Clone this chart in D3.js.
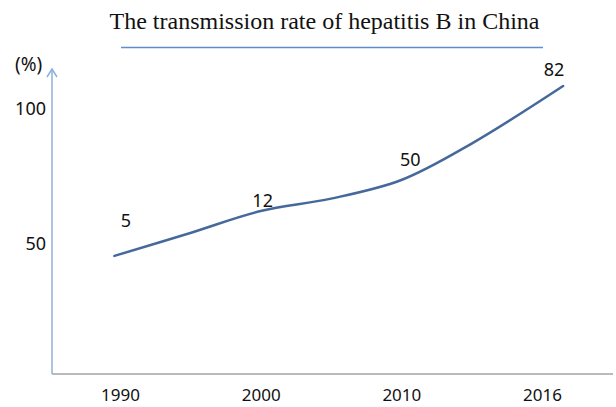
<!DOCTYPE html>
<html>
<head>
<meta charset="utf-8">
<script src="https://cdn.jsdelivr.net/npm/d3@7"></script>
<style>
  html, body { margin: 0; padding: 0; background: #fff; }
  svg { display: block; }
</style>
</head>
<body>
<div id="chart"></div>
<script>
// data
const title = "The transmission rate of hepatitis B in China";
const years = ["1990", "2000", "2010", "2016"];
const rateLabels = ["5", "12", "50", "82"];
const yTicks = [50, 100];
const unitLabel = "(%)";
// curve, sampled along the category axis (0 = 1990 ... 3 = 2016)
const curvePos = [-0.04, 0.5, 1.0, 1.5, 2.0, 2.5, 3.15];
const curveVal = [45.6, 54.1, 62.2, 66.8, 73.7, 87.2, 108.5];

// layout
const w = 616, h = 407;
const axisX = 52, axisY = 374;
const labelShift = [[6, -27], [2, -4], [9, -14], [12, -23]];

const svg = d3.select("#chart").append("svg")
  .attr("width", w)
  .attr("height", h)
  .attr("viewBox", [0, 0, w, h]);

const x = d3.scaleLinear().domain([0, 3]).range([120, 542]);
const y = d3.scaleLinear().domain([0, 100]).range([379, 109]);

// title + rule underneath
svg.append("text")
  .attr("x", 324.5)
  .attr("y", 29)
  .attr("text-anchor", "middle")
  .attr("font-family", "'Liberation Serif', 'Times New Roman', serif")
  .attr("font-size", 24)
  .attr("fill", "#111")
  .text(title);

svg.append("line")
  .attr("x1", 121).attr("x2", 543)
  .attr("y1", 47.5).attr("y2", 47.5)
  .attr("stroke", "#5f8ccb")
  .attr("stroke-width", 1.5);

// x axis
const ax = d3.axisBottom(x)
  .tickValues(d3.range(years.length))
  .tickFormat(i => years[i])
  .tickSize(0)
  .tickPadding(15);

svg.append("g")
  .attr("transform", `translate(0,${axisY})`)
  .call(ax)
  .call(g => g.select(".domain").remove())
  .call(g => g.selectAll("text")
    .attr("font-family", "'Noto Sans', sans-serif")
    .attr("font-size", 17)
    .attr("fill", "#111"));

svg.append("line")
  .attr("x1", axisX).attr("x2", 613)
  .attr("y1", axisY).attr("y2", axisY)
  .attr("stroke", "#a3a3a3")
  .attr("stroke-width", 1.5);

// y axis with arrow
svg.append("line")
  .attr("x1", axisX).attr("x2", axisX)
  .attr("y1", axisY).attr("y2", 70)
  .attr("stroke", "#8fb0dc")
  .attr("stroke-width", 1.5);

svg.append("path")
  .attr("d", `M${axisX - 5},${77} L${axisX},${69} L${axisX + 5},${77}`)
  .attr("fill", "none")
  .attr("stroke", "#8fb0dc")
  .attr("stroke-width", 1.5);

svg.append("g")
  .selectAll("text")
  .data(yTicks)
  .join("text")
  .attr("x", 46)
  .attr("y", d => y(d))
  .attr("dy", "0.35em")
  .attr("text-anchor", "end")
  .attr("font-family", "'Noto Sans', sans-serif")
  .attr("font-size", 18)
  .attr("fill", "#111")
  .text(d => d);

svg.append("text")
  .attr("x", 15)
  .attr("y", 71)
  .attr("font-family", "'Noto Sans', sans-serif")
  .attr("font-size", 19)
  .attr("fill", "#111")
  .text(unitLabel);

// the curve
const curve = d3.line()
  .curve(d3.curveCatmullRom.alpha(0.5))
  .x(d => x(d[0]))
  .y(d => y(d[1]));

svg.append("path")
  .attr("d", curve(d3.zip(curvePos, curveVal)))
  .attr("fill", "none")
  .attr("stroke", "#46699b")
  .attr("stroke-width", 2.5)
  .attr("stroke-linecap", "round");

// value labels along the curve
const near = i => {
  const k = d3.bisectLeft(curvePos, i);
  const j = Math.max(1, Math.min(curvePos.length - 1, k));
  const t = (i - curvePos[j - 1]) / (curvePos[j] - curvePos[j - 1]);
  return curveVal[j - 1] + t * (curveVal[j] - curveVal[j - 1]);
};

svg.append("g")
  .selectAll("text")
  .data(rateLabels)
  .join("text")
  .attr("x", (d, i) => x(i) + labelShift[i][0])
  .attr("y", (d, i) => y(near(i)) + labelShift[i][1])
  .attr("text-anchor", "middle")
  .attr("font-family", "'Noto Sans', sans-serif")
  .attr("font-size", 18)
  .attr("fill", "#111")
  .text(d => d);
</script>
</body>
</html>
